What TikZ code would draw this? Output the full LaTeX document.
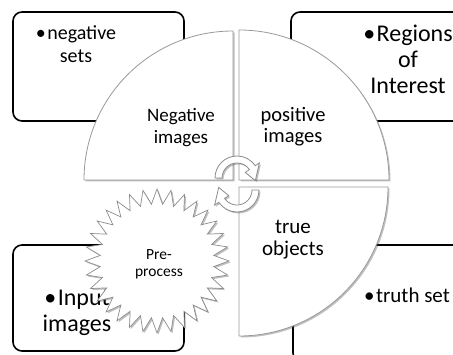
\documentclass[tikz,border=0pt]{standalone}
\usepackage{fontspec}
\setmainfont{Carlito}
\usetikzlibrary{shadows}
\newcommand{\bul}{\textbullet\kern1.5pt}
\begin{document}
\begin{tikzpicture}[x=1pt,y=1pt,
  itembox/.style={draw=black, line width=1.6pt, rounded corners=9pt, fill=white},
  softshadow/.style={drop shadow={shadow xshift=1.5pt, shadow yshift=-1.5pt, opacity=0.35, fill=black!70}},
  quarter/.style={draw=black!40, line width=0.8pt, fill=white, softshadow},
  burst/.style={draw=black!45, line width=0.7pt, fill=white, softshadow},
  cyc/.style={draw=black!45, line width=0.8pt, fill=white, softshadow},
  boxtext/.style={align=center, inner sep=0pt},
  segtext/.style={align=center, inner sep=0pt}
]
\useasboundingbox (0,0) rectangle (453,354);

% corner boxes
\draw[itembox] (13,342) rectangle (184,233);
\draw[itembox] (291,342) rectangle (462,233);
\draw[itembox] (13,109) rectangle (184,3);
\draw[itembox] (293,109) rectangle (464,-8);

% box texts
\node[boxtext, font=\fontsize{20}{23}\selectfont] (negset) at (76,310) {\bul negative\\sets};
\node[boxtext, font=\fontsize{24}{26}\selectfont] (roi) at (408,295) {\bul Regions\\of\\Interest};
\node[boxtext, font=\fontsize{24}{26}\selectfont] (input) at (77,41) {\bul Input\\images};
\node[boxtext, font=\fontsize{21}{23}\selectfont] (truth) at (407,59) {\bul truth set};

% three quarter segments
\draw[quarter] (233,174) -- (84,174) arc[start angle=180, end angle=90, radius=149] -- cycle;
\draw[quarter] (239,174) -- (239,324) arc[start angle=90, end angle=0, radius=150] -- cycle;
\draw[quarter] (239,167) -- (388,167) arc[start angle=0, end angle=-90, radius=149] -- cycle;

% starburst
\begin{scope}[shift={(157,93)}]
  \draw[burst] (90:72) \foreach \i in {0,...,31}{ -- ({90+\i*11.25+5.625}:57) -- ({90+(\i+1)*11.25}:72)} -- cycle;
\end{scope}

% segment texts
\node[segtext, font=\fontsize{19}{22}\selectfont] (negimg) at (181,226) {Negative\\images};
\node[segtext, font=\fontsize{20.5}{21}\selectfont] (posimg) at (293,227) {positive\\images};
\node[segtext, font=\fontsize{21}{22}\selectfont] (trueobj) at (293,114) {true\\objects};
\node[segtext, font=\fontsize{15.5}{17}\selectfont] (pre) at (159,90) {Pre-\\process};

% circular arrows
\begin{scope}[shift={(237,176)}]
  \draw[cyc] (180:22) arc[start angle=180, end angle=34, radius=22] -- (34:27) -- (-8:18.5)
    -- (34:10) -- (34:15) arc[start angle=34, end angle=180, radius=15] -- cycle;
\end{scope}
\begin{scope}[shift={(237,164)}, rotate=180]
  \draw[cyc] (180:22) arc[start angle=180, end angle=34, radius=22] -- (34:27) -- (-8:18.5)
    -- (34:10) -- (34:15) arc[start angle=34, end angle=180, radius=15] -- cycle;
\end{scope}
\end{tikzpicture}
\end{document}
